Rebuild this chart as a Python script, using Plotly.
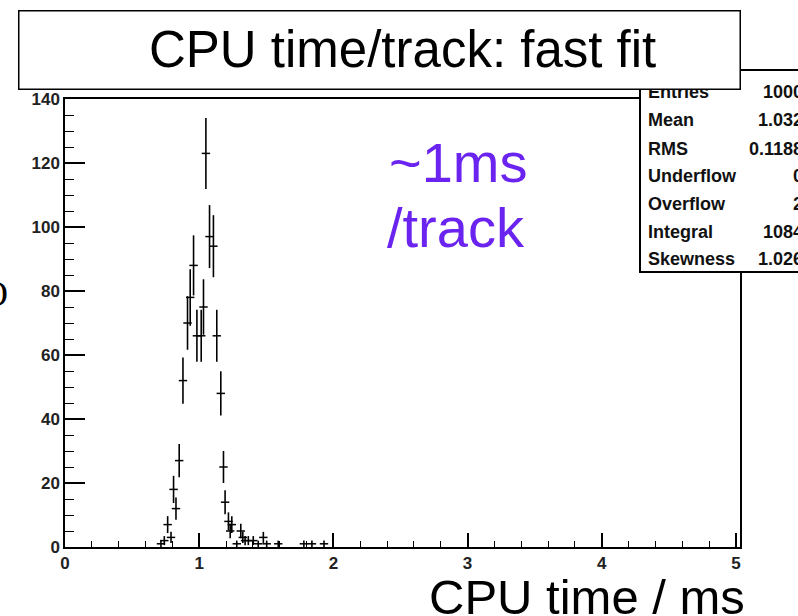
import numpy as np
import plotly.graph_objects as go

# ---- data (CPU time per track, ms) ----
cpu_time = [0.715, 0.74, 0.765, 0.79, 0.809, 0.827, 0.851, 0.879, 0.913, 0.933,
            0.958, 0.983, 1.015, 1.032, 1.050, 1.077, 1.106, 1.131, 1.161, 1.181,
            1.193, 1.218, 1.231, 1.243, 1.28, 1.31, 1.325, 1.342, 1.366, 1.403,
            1.44, 1.478, 1.503, 1.589, 1.78, 1.84, 1.93]
counts = [1, 2, 7, 3, 18, 12, 27, 52, 70, 78,
          88, 66, 66, 75, 123, 97, 94, 66, 48, 25,
          14, 8, 5, 7, 1, 5, 3, 2, 2, 2,
          1, 3, 1, 1, 1, 1, 1]
errors = list(np.sqrt(np.array(counts, dtype=float)))

stat_labels = ["Entries", "Mean", "RMS", "Underflow", "Overflow", "Integral", "Skewness"]
stat_values = ["1000", "1.032", "0.1188", "0", "2", "1084", "1.026"]

title_text = "CPU time/track: fast fit"
xlabel_text = "CPU time / ms"
note_lines = ["~1ms", "/track"]

x_tick_vals = [0, 1, 2, 3, 4, 5]
y_tick_vals = [0, 20, 40, 60, 80, 100, 120, 140]

# ---- geometry (pixels) ----
W, H = 798, 616
L, R, T, B = 65, 740, 99, 547
def px(xp):
    return (xp - L) / (R - L)
def py(yp):
    return (B - yp) / (B - T)

fig = go.Figure()
fig.add_trace(go.Scatter(
    x=cpu_time, y=counts, mode="markers",
    marker=dict(symbol="line-ew", size=6, color="black",
                line=dict(width=1.5, color="black")),
    error_y=dict(type="data", array=errors, visible=True,
                 thickness=1.6, width=0, color="black"),
    showlegend=False, hoverinfo="x+y",
))

tickfont = dict(family="Liberation Sans, Arial, sans-serif", size=17, color="#222",
                weight="bold")

fig.update_layout(
    width=W, height=H,
    margin=dict(l=L, r=W - R, t=T, b=H - B, pad=0),
    paper_bgcolor="white", plot_bgcolor="white",
    xaxis=dict(range=[0, 5.03], tickvals=x_tick_vals,
               ticks="inside", ticklen=14, tickwidth=1.5, tickcolor="black",
               minor=dict(dtick=0.2, ticks="inside", ticklen=6, tickwidth=1.2,
                          tickcolor="black"),
               showline=True, linecolor="black", linewidth=1.5, mirror=True,
               showgrid=False, zeroline=False, tickfont=tickfont,
               ticklabelstandoff=0),
    yaxis=dict(range=[0, 140], tickvals=y_tick_vals,
               ticks="inside", ticklen=20, tickwidth=1.5, tickcolor="black",
               minor=dict(dtick=5, ticks="inside", ticklen=9, tickwidth=1.2,
                          tickcolor="black"),
               showline=True, linecolor="black", linewidth=1.5, mirror=True,
               showgrid=False, zeroline=False, tickfont=tickfont,
               ticklabelstandoff=0),
)

# stats box (drawn over the frame's top-right corner)
fig.add_shape(type="rect", xref="paper", yref="paper",
              x0=px(640), x1=px(830), y0=py(272), y1=py(70),
              line=dict(color="black", width=2), fillcolor="white", layer="above")

ann = []
stat_y = [92, 120.5, 148.5, 176, 204, 231.5, 259]
sfont = dict(family="Liberation Sans, Arial, sans-serif", size=18, color="#111", weight="bold")
for lab, val, yy in zip(stat_labels, stat_values, stat_y):
    ann.append(dict(x=px(646), y=py(yy), xref="paper", yref="paper", text=lab,
                    showarrow=False, xanchor="left", yanchor="middle", font=sfont))
    ann.append(dict(x=px(805), y=py(yy), xref="paper", yref="paper", text=val,
                    showarrow=False, xanchor="right", yanchor="middle", font=sfont))

# purple note
pfont = dict(family="Liberation Sans, Arial, sans-serif", size=56, color="#6B23F0")
ann.append(dict(x=px(387), y=py(162), xref="paper", yref="paper", text=note_lines[0],
                showarrow=False, xanchor="left", yanchor="middle", font=pfont))
ann.append(dict(x=px(385), y=py(227), xref="paper", yref="paper", text=note_lines[1],
                showarrow=False, xanchor="left", yanchor="middle", font=pfont))

# x-axis title
ann.append(dict(x=px(747), y=py(597), xref="paper", yref="paper", text=xlabel_text,
                showarrow=False, xanchor="right", yanchor="middle",
                font=dict(family="Liberation Sans, Arial, sans-serif", size=49, color="black")))

# stray glyph at the left edge
ann.append(dict(x=px(10), y=py(294), xref="paper", yref="paper", text="O",
                showarrow=False, xanchor="right", yanchor="middle",
                font=dict(family="Liberation Serif, Times New Roman, serif", size=36, color="black")))

# title box (after the stats text, so it covers the top of the stats box)
ann.append(dict(x=px(379.5), y=py(50), xref="paper", yref="paper", text=" ",
                showarrow=False, xanchor="center", yanchor="middle",
                width=720, height=77, bgcolor="white", bordercolor="black",
                borderwidth=1.5, borderpad=0,
                font=dict(family="Liberation Sans, Arial, sans-serif", size=20, color="black")))
ann.append(dict(x=px(402), y=py(49), xref="paper", yref="paper", text=title_text,
                showarrow=False, xanchor="center", yanchor="middle",
                font=dict(family="Liberation Sans, Arial, sans-serif", size=51, color="black")))

fig.update_layout(annotations=ann)
fig.write_html("out.html", config={"displayModeBar": False},
               post_script="document.body.style.margin='0';document.body.style.overflow='hidden';")
